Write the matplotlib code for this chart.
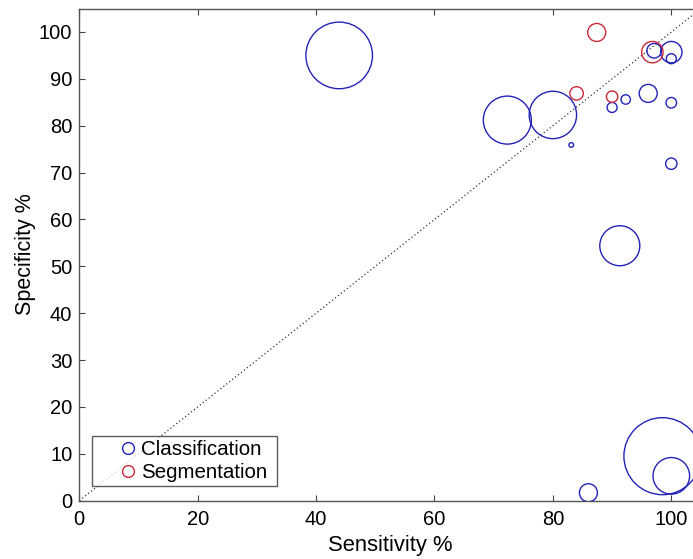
import matplotlib
matplotlib.use("Agg")
import matplotlib.pyplot as plt
from matplotlib.lines import Line2D

plt.rcParams["font.family"] = ["Liberation Sans", "DejaVu Sans"]

# classification studies: sensitivity, specificity, bubble area (pt^2)
cls_sens = [43.9, 72.3, 80.0, 83.1, 90.0, 92.3, 96.1, 97.1, 100.0, 100.0,
            100.0, 100.0, 91.3, 86.0, 98.5, 100.0]
cls_spec = [95.0, 81.2, 82.3, 75.9, 83.9, 85.6, 86.9, 96.0, 95.7, 94.3,
            84.9, 71.9, 54.4, 1.7, 9.5, 5.3]
cls_area = [2300, 1195, 1165, 11, 52, 46, 168, 110, 237, 52,
            58, 67, 830, 168, 3075, 695]

# segmentation studies
seg_sens = [87.4, 96.8, 84.0, 90.0]
seg_spec = [99.9, 95.7, 86.9, 86.2]
seg_area = [168, 237, 93, 67]

x_ticks = [0, 20, 40, 60, 80, 100]
y_ticks = [0, 10, 20, 30, 40, 50, 60, 70, 80, 90, 100]

BLUE = "#2323b8"
RED = "#cc2838"

fig = plt.figure(figsize=(6.93, 5.59), dpi=100)
# axes run off the right edge, as in the exported figure
ax = fig.add_axes([0.1144, 0.1043, 0.897, 0.8804])

ax.plot([0, 105], [0, 105], linestyle=(0, (1, 2)), color="#333333", linewidth=0.9, zorder=1)

ax.scatter(cls_sens, cls_spec, s=cls_area, facecolors="none", edgecolors=BLUE,
           linewidths=1.0, zorder=3)
ax.scatter(seg_sens, seg_spec, s=seg_area, facecolors="none", edgecolors=RED,
           linewidths=1.0, zorder=4)

ax.set_xlim(0, 105)
ax.set_ylim(0, 105)
ax.set_xticks(x_ticks)
ax.set_yticks(y_ticks)
ax.tick_params(direction="in", length=4, width=0.8, labelsize=14.5, color="#444444",
               top=True, right=False)
ax.tick_params(axis="y", pad=5)
ax.tick_params(axis="x", pad=7)
for sp in ax.spines.values():
    sp.set_color("#555555")
    sp.set_linewidth(1.0)
ax.spines["right"].set_visible(False)

ax.set_xlabel("Sensitivity %", fontsize=15.8, labelpad=4)
ax.set_ylabel("Specificity %", fontsize=15.5, labelpad=2)

handles = [
    Line2D([], [], marker="o", linestyle="none", markersize=8.5,
           markerfacecolor="none", markeredgecolor=BLUE, markeredgewidth=1.0,
           label="Classification"),
    Line2D([], [], marker="o", linestyle="none", markersize=8.5,
           markerfacecolor="none", markeredgecolor=RED, markeredgewidth=1.0,
           label="Segmentation"),
]
leg = ax.legend(handles=handles, loc="lower left",
                bbox_to_anchor=(0.021, 0.030, 0.2976, 0.0), mode="expand",
                fontsize=14.8, frameon=True, fancybox=False, borderaxespad=0,
                handlelength=3.05, handletextpad=-0.89, labelspacing=0.2,
                borderpad=0.2)
leg.get_frame().set_edgecolor("#333333")
leg.get_frame().set_linewidth(1.0)

fig.savefig("out.png", dpi=100)
